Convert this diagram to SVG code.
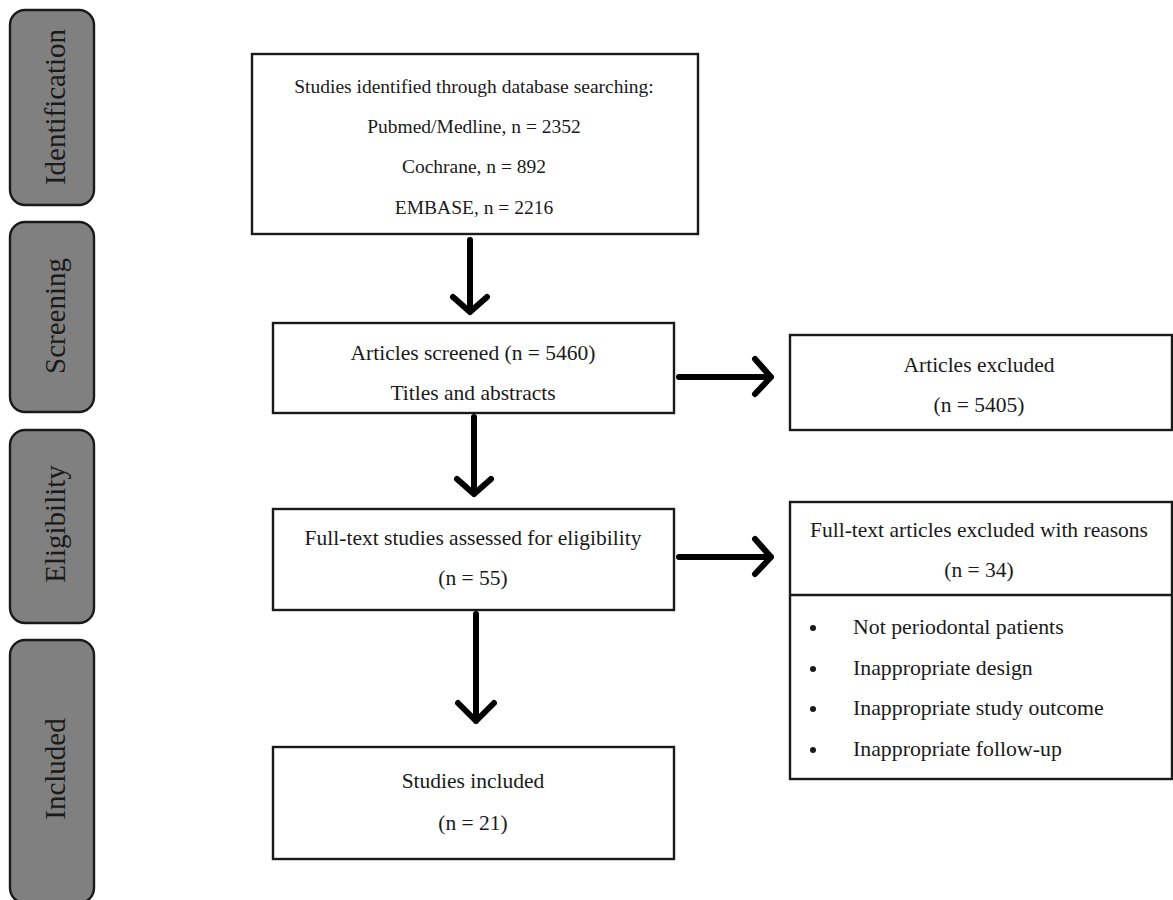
<svg xmlns="http://www.w3.org/2000/svg" width="1173" height="900" viewBox="0 0 1173 900">
<style>
  .stage { fill: #808080; stroke: #1a1a1a; stroke-width: 2.4; }
  .stage-t { font-family: "Liberation Serif", "Times New Roman", serif; font-size: 29px; fill: #1a1a1a; text-anchor: middle; }
  .box { fill: #ffffff; stroke: #1a1a1a; stroke-width: 2.4; }
  .t { font-family: "Liberation Serif", "Times New Roman", serif; font-size: 21.5px; fill: #1a1a1a; text-anchor: middle; }
  .t1 { font-family: "Liberation Serif", "Times New Roman", serif; font-size: 19.5px; fill: #1a1a1a; text-anchor: middle; }
  .tl { font-family: "Liberation Serif", "Times New Roman", serif; font-size: 21.8px; fill: #1a1a1a; }
  .arrow { fill: none; stroke: #000000; stroke-width: 6; stroke-linecap: round; stroke-linejoin: round; }
</style>
<rect width="1173" height="900" fill="#ffffff"/>

<g id="stage-identification">
  <rect class="stage" x="10" y="10" width="84" height="195" rx="15"/>
  <text class="stage-t" transform="translate(65,107) rotate(-90)">Identification</text>
</g>
<g id="stage-screening">
  <rect class="stage" x="10" y="222" width="84" height="190" rx="15"/>
  <text class="stage-t" transform="translate(65,316) rotate(-90)">Screening</text>
</g>
<g id="stage-eligibility">
  <rect class="stage" x="10" y="430" width="84" height="193" rx="15"/>
  <text class="stage-t" transform="translate(65,524) rotate(-90)">Eligibility</text>
</g>
<g id="stage-included">
  <rect class="stage" x="10" y="640" width="84" height="263" rx="15"/>
  <text class="stage-t" transform="translate(65,769) rotate(-90)">Included</text>
</g>

<g id="node-identified">
  <rect class="box" x="252" y="54" width="446" height="180"/>
  <text class="t1" x="474" y="93">Studies identified through database searching:</text>
  <text class="t1" x="474" y="133">Pubmed/Medline, n = 2352</text>
  <text class="t1" x="474" y="173">Cochrane, n = 892</text>
  <text class="t1" x="474" y="214">EMBASE, n = 2216</text>
</g>

<g id="node-screened">
  <rect class="box" x="273" y="323" width="401" height="90"/>
  <text class="t" x="473" y="360">Articles screened (n = 5460)</text>
  <text class="t" x="473" y="400">Titles and abstracts</text>
</g>

<g id="node-excluded">
  <rect class="box" x="790" y="335" width="382" height="95"/>
  <text class="t" x="979" y="372">Articles excluded</text>
  <text class="t" x="979" y="412">(n = 5405)</text>
</g>

<g id="node-fulltext">
  <rect class="box" x="273" y="509" width="401" height="101"/>
  <text class="t" x="473" y="545">Full-text studies assessed for eligibility</text>
  <text class="t" x="473" y="585">(n = 55)</text>
</g>

<g id="node-fulltext-excluded">
  <rect class="box" x="790" y="502" width="382" height="277"/>
  <line x1="790" y1="595" x2="1172" y2="595" stroke="#1a1a1a" stroke-width="2.4"/>
  <text class="t" x="979" y="537">Full-text articles excluded with reasons</text>
  <text class="t" x="979" y="577">(n = 34)</text>
  <circle cx="813" cy="628" r="3" fill="#1a1a1a"/>
  <circle cx="813" cy="669" r="3" fill="#1a1a1a"/>
  <circle cx="813" cy="709" r="3" fill="#1a1a1a"/>
  <circle cx="813" cy="750" r="3" fill="#1a1a1a"/>
  <text class="tl" x="853" y="634">Not periodontal patients</text>
  <text class="tl" x="853" y="675">Inappropriate design</text>
  <text class="tl" x="853" y="715">Inappropriate study outcome</text>
  <text class="tl" x="853" y="756">Inappropriate follow-up</text>
</g>

<g id="node-included">
  <rect class="box" x="273" y="747" width="401" height="112"/>
  <text class="t" x="473" y="788">Studies included</text>
  <text class="t" x="473" y="830">(n = 21)</text>
</g>

<g id="connectors">
  <path class="arrow" d="M470,240 V312 M453,297 L470,312 L487,297"/>
  <path class="arrow" d="M474,417 V494 M457,479 L474,494 L491,479"/>
  <path class="arrow" d="M476,614 V721 M458,703 L476,721 L494,703"/>
  <path class="arrow" d="M679,377 H771 M755,359 L771,377 L755,394"/>
  <path class="arrow" d="M679,557 H771 M755,539 L771,557 L755,574"/>
</g>
</svg>
